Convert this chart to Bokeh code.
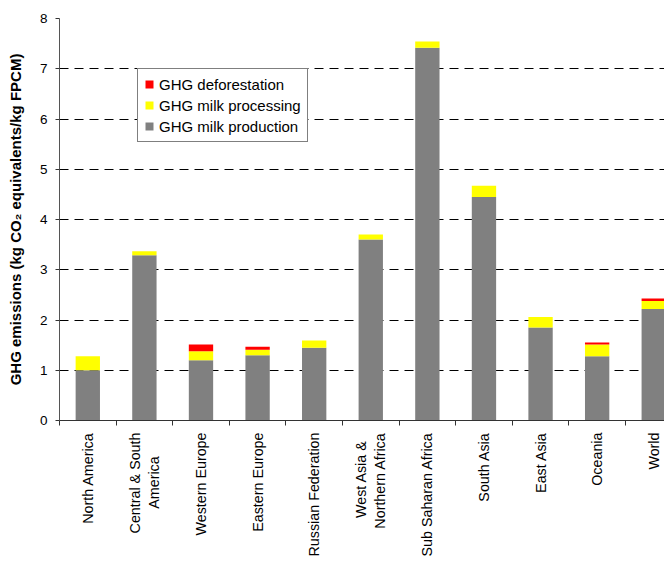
import math
from bokeh.plotting import figure
from bokeh.models import ColumnDataSource, FixedTicker, Legend, LegendItem, Range1d
from bokeh.embed import file_html
from bokeh.resources import INLINE

NB = "\u00a0"
regions = ["North America", "Central & South\nAmerica" + NB * 6, "Western Europe", "Eastern Europe",
           "Russian Federation", "West Asia &" + NB * 2 + "\nNorthern Africa", "Sub Saharan Africa",
           "South Asia", "East Asia", "Oceania", "World"]
milk_production = [1.00, 3.29, 1.20, 1.30, 1.45, 3.60, 7.42, 4.45, 1.85, 1.28, 2.22]
milk_processing = [0.28, 0.08, 0.18, 0.11, 0.14, 0.10, 0.12, 0.22, 0.21, 0.23, 0.16]
deforestation = [0.00, 0.00, 0.13, 0.06, 0.00, 0.00, 0.00, 0.00, 0.00, 0.04, 0.05]
y_ticks = [0, 1, 2, 3, 4, 5, 6, 7, 8]

FONT = "Liberation Sans"
positions = list(range(len(regions)))

src = ColumnDataSource(dict(x=positions, prod=milk_production, proc=milk_processing, defo=deforestation))

p = figure(width=664, height=559, output_backend="svg", toolbar_location=None,
           x_range=Range1d(-0.5, 10.19), y_range=Range1d(0, 8),
           min_border_left=59, min_border_top=18, min_border_bottom=138, min_border_right=0)
p.outline_line_color = None
p.background_fill_color = "white"

renderers = p.vbar_stack(["prod", "proc", "defo"], x="x", width=0.43, source=src,
                         color=["#808080", "#FFFF00", "#FF0000"], line_width=0)

# grid
p.xgrid.visible = False
p.ygrid.ticker = FixedTicker(ticks=y_ticks[1:])
p.ygrid.grid_line_color = "black"
p.ygrid.grid_line_dash = "9 6"
p.ygrid.grid_line_width = 1

# y axis
ya = p.yaxis[0]
ya.ticker = FixedTicker(ticks=y_ticks)
ya.minor_tick_line_color = None
ya.major_tick_out = 4
ya.major_tick_in = 0
ya.major_label_standoff = 8
ya.major_label_text_font = FONT
ya.major_label_text_font_size = "13.5px"
ya.major_label_text_color = "black"
ya.axis_line_color = "#555555"
ya.major_tick_line_color = "#333333"
ya.axis_label = "GHG emissions (kg CO\u2082 equivalents/kg FPCM)"
ya.axis_label_text_font = FONT
ya.axis_label_text_font_size = "15px"
ya.axis_label_text_font_style = "bold"
ya.axis_label_text_color = "black"
ya.axis_label_standoff = 13

# x axis
xa = p.xaxis[0]
xa.ticker = FixedTicker(ticks=positions, minor_ticks=[i - 0.5 for i in range(len(regions) + 1)])
xa.major_label_overrides = {i: r for i, r in zip(positions, regions)}
xa.major_label_orientation = math.pi / 2
xa.major_tick_out = 0
xa.major_tick_in = 0
xa.minor_tick_out = 5
xa.minor_tick_in = 0
xa.minor_tick_line_color = "#333333"
xa.major_label_standoff = 7
xa.axis_label_standoff = 0
xa.major_label_text_font = FONT
xa.major_label_text_font_size = "14.3px"
xa.major_label_text_color = "black"
xa.axis_line_color = "#333333"

legend = Legend(items=[
    LegendItem(label="GHG deforestation", renderers=[renderers[2]]),
    LegendItem(label="GHG milk processing", renderers=[renderers[1]]),
    LegendItem(label="GHG milk production", renderers=[renderers[0]]),
], location=(78, 278))
legend.border_line_color = "black"
legend.border_line_width = 1
legend.background_fill_color = "white"
legend.background_fill_alpha = 1
legend.label_text_font = FONT
legend.label_text_font_size = "15px"
legend.label_text_color = "black"
legend.glyph_width = 10
legend.glyph_height = 10
legend.label_height = 18
legend.label_standoff = 5
legend.spacing = 3
legend.padding = 6
legend.margin = 0
p.add_layout(legend, "center")

open("out.html", "w").write(file_html(p, INLINE))
